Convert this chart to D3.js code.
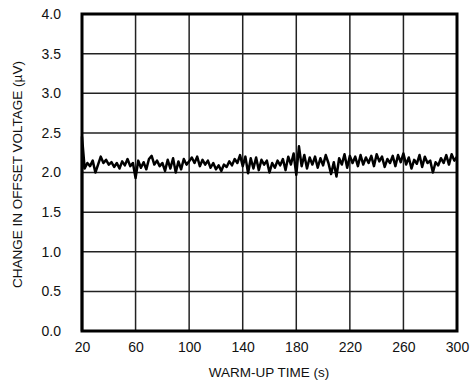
<!DOCTYPE html>
<html><head><meta charset="utf-8">
<script src="https://cdn.jsdelivr.net/npm/d3@7"></script>
<style>body{margin:0;background:#fff;}text{font-family:"Liberation Sans",Arial,sans-serif;fill:#111;}</style>
</head><body><svg id="c" width="471" height="385"></svg>
<script>
const xTicks = [20, 60, 100, 140, 180, 220, 260, 300];
const yTicks = [0, 0.5, 1.0, 1.5, 2.0, 2.5, 3.0, 3.5, 4.0];
const xTitle = "WARM-UP TIME (s)";
const yTitle = "CHANGE IN OFFSET VOLTAGE (µV)";
// warm-up trace: one value every 2 s from 20 s to 300 s (preceded by the 0 V start at 20 s)
const startTime = 20, stepTime = 2;
const values = [
2.45,2.05,2.12,2.08,2.15,2.00,2.10,2.20,2.12,2.16,
2.10,2.13,2.07,2.12,2.05,2.14,2.09,2.17,2.08,2.12,
1.93,2.15,2.06,2.13,2.04,2.17,2.21,2.10,2.15,2.08,
2.12,2.02,2.16,2.05,2.18,2.00,2.14,2.04,2.17,2.10,
2.14,2.19,2.12,2.20,2.08,2.16,2.10,2.15,2.06,2.12,
2.04,2.09,2.02,2.10,2.07,2.14,2.09,2.17,2.12,2.22,
2.08,2.20,1.99,2.18,2.05,2.19,2.03,2.16,2.10,2.15,
2.00,2.12,2.06,2.15,2.09,2.17,2.03,2.20,2.10,2.24,
1.97,2.33,2.08,2.22,2.05,2.19,2.10,2.20,2.06,2.18,
2.09,2.22,2.12,1.98,2.13,1.95,2.18,2.10,2.23,2.06,
2.21,2.12,2.20,2.08,2.22,2.10,2.19,2.12,2.21,2.08,
2.23,2.14,2.20,2.07,2.17,2.12,2.21,2.08,2.22,2.13,
2.24,2.10,2.19,2.05,2.16,2.11,2.22,2.07,2.20,2.12,
2.15,2.00,2.13,2.09,2.18,2.12,2.22,2.10,2.23,2.15,
2.20];
const data = [{t: startTime, v: 0}].concat(values.map((v, i) => ({t: startTime + i * stepTime, v})));

const svg = d3.select("#c");
const L = 82, R = 457, T = 14, B = 331;
const x = d3.scaleLinear().domain([20, 300]).range([L, R]);
const y = d3.scaleLinear().domain([0, 4]).range([B, T]);

const g = svg.append("g");
// grid
g.selectAll(".gx").data(xTicks).join("line")
  .attr("x1", d => x(d)).attr("x2", d => x(d)).attr("y1", T).attr("y2", B)
  .attr("stroke", "#222").attr("stroke-width", 1.5);
g.selectAll(".gy").data(yTicks).join("line")
  .attr("y1", d => y(d)).attr("y2", d => y(d)).attr("x1", L).attr("x2", R)
  .attr("stroke", "#222").attr("stroke-width", 1.5);

// trace
const line = d3.line().x(d => x(d.t)).y(d => y(d.v));
g.append("path").datum(data).attr("d", line)
  .attr("fill", "none").attr("stroke", "#000").attr("stroke-width", 2.5)
  .attr("stroke-linejoin", "round");

// frame
g.append("rect").attr("x", L).attr("y", T).attr("width", R - L).attr("height", B - T)
  .attr("fill", "none").attr("stroke", "#000").attr("stroke-width", 3);

// axes labels
const xa = svg.append("g").attr("transform", `translate(0,${B + 8})`)
  .call(d3.axisBottom(x).tickValues(xTicks).tickSize(0).tickFormat(d3.format("d")));
xa.select(".domain").remove();
xa.selectAll("text").attr("font-size", 14).attr("font-family", '"Liberation Sans",Arial,sans-serif').attr("fill", "#111");

const ya = svg.append("g").attr("transform", `translate(${L - 18},0)`)
  .call(d3.axisLeft(y).tickValues(yTicks).tickSize(0).tickFormat(d3.format(".1f")));
ya.select(".domain").remove();
ya.selectAll("text").attr("font-size", 14).attr("font-family", '"Liberation Sans",Arial,sans-serif').attr("fill", "#111");

svg.append("text").attr("x", 269).attr("y", 377).attr("text-anchor", "middle")
  .attr("font-size", 13.5).text(xTitle);
svg.append("text").attr("transform", `translate(22,${(T + B) / 2 + 2}) rotate(-90)`)
  .attr("text-anchor", "middle").attr("font-size", 13.5).text(yTitle);
</script></body></html>
